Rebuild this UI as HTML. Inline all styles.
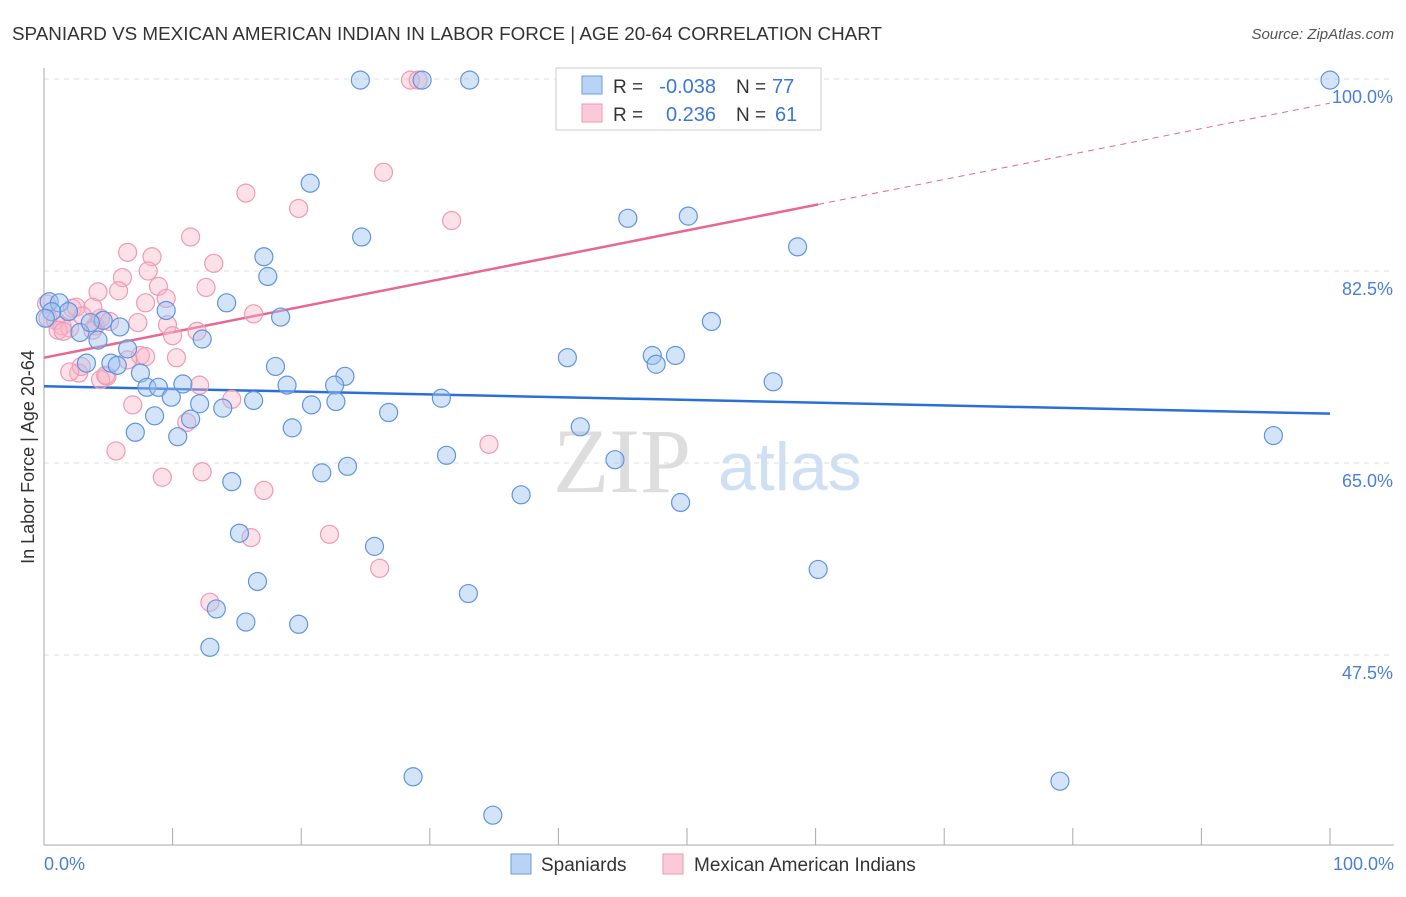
<!DOCTYPE html>
<html><head><meta charset="utf-8"><style>
body{margin:0;background:#fff;font-family:"Liberation Sans",sans-serif;}
</style></head><body>
<svg id="chart" width="1406" height="892" xmlns="http://www.w3.org/2000/svg">
<text x="12" y="40" font-size="18" fill="#333" textLength="870" lengthAdjust="spacingAndGlyphs">SPANIARD VS MEXICAN AMERICAN INDIAN IN LABOR FORCE | AGE 20-64 CORRELATION CHART</text>
<text x="1394" y="39" font-size="15" fill="#555" font-style="italic" text-anchor="end">Source: ZipAtlas.com</text>
<g><text x="553" y="492" font-size="92" fill="#ddd" font-family="Liberation Serif,serif">ZIP</text><text x="718" y="490" font-size="68" fill="#cfe0f5">atlas</text></g>
<g id="grid"></g><g id="axes"></g><g id="lines"></g><g id="pts"></g>
<text transform="translate(34,457) rotate(-90)" font-size="18" fill="#333" text-anchor="middle">In Labor Force | Age 20-64</text>
<text x="44" y="870" font-size="18" fill="#4a7fd6">0.0%</text>
<text x="1394" y="870" font-size="18" fill="#4a7fd6" text-anchor="end">100.0%</text>
<g>
<rect x="556" y="68" width="265" height="62" fill="#fff" stroke="#ccc"/>
<rect x="582" y="76" width="20" height="18" fill="#b9d3f5" stroke="#6a9ee0"/>
<rect x="582" y="104" width="20" height="18" fill="#fbc9d7" stroke="#ef9ab5"/>
<text x="613" y="93" font-size="19" fill="#333">R =</text>
<text x="716" y="93" font-size="20" fill="#3a78d8" text-anchor="end">-0.038</text>
<text x="736" y="93" font-size="19" fill="#333">N =</text>
<text x="772" y="93" font-size="20" fill="#3a78d8">77</text>
<text x="613" y="121" font-size="19" fill="#333">R =</text>
<text x="716" y="121" font-size="20" fill="#3a78d8" text-anchor="end">0.236</text>
<text x="736" y="121" font-size="19" fill="#333">N =</text>
<text x="775" y="121" font-size="20" fill="#3a78d8">61</text>
</g>
<g>
<rect x="511" y="854" width="20" height="20" fill="#b9d3f5" stroke="#6a9ee0"/>
<text x="541" y="871" font-size="19" fill="#333">Spaniards</text>
<rect x="663" y="854" width="20" height="20" fill="#fbc9d7" stroke="#ef9ab5"/>
<text x="694" y="871" font-size="19" fill="#333">Mexican American Indians</text>
</g>
</svg>
<script>
const yTicks=[100,82.5,65,47.5];
const yTickLabels=["100.0%","82.5%","65.0%","47.5%"];
const xTicks=[0,10,20,30,40,50,60,70,80,90,100];
const blueX=[24.6,29.4,33.1,100,20.7,24.7,45.4,50.1,58.6,17.1,17.4,0.4,1.2,1.9,0.6,14.2,9.5,18.4,51.9,4.6,5.9,12.3,2.8,4.2,6.5,40.7,47.3,49.1,47.6,5.2,5.7,3.3,18.0,7.5,23.4,56.7,8.0,8.9,10.8,18.9,22.6,9.9,12.1,13.9,16.3,20.8,22.7,30.9,8.6,11.4,26.8,7.1,10.4,19.3,41.7,95.6,31.3,44.4,23.6,21.6,14.6,37.1,49.5,15.2,25.7,60.2,16.6,33.0,13.4,15.7,19.8,12.9,28.7,79.0,34.9,0.1,3.6];
const blueY=[99.9,99.9,99.9,99.9,90.5,85.6,87.3,87.5,84.7,83.8,82.0,79.7,79.6,78.8,78.8,79.6,78.9,78.3,77.9,78.0,77.4,76.3,76.9,76.2,75.4,74.6,74.8,74.8,74.0,74.1,73.9,74.1,73.8,73.2,72.9,72.4,71.9,71.9,72.2,72.1,72.1,71.0,70.4,70.0,70.7,70.3,70.6,70.9,69.3,69.0,69.6,67.8,67.4,68.2,68.3,67.5,65.7,65.3,64.7,64.1,63.3,62.1,61.4,58.6,57.4,55.3,54.2,53.1,51.7,50.5,50.3,48.2,36.4,36.0,32.9,78.2,77.8];
const pinkX=[0.2,0.3,0.9,1.4,2.2,2.0,1.1,4.0,4.4,3.8,4.2,6.1,6.5,8.4,8.1,5.8,7.9,8.9,9.5,7.3,9.6,10.0,10.3,11.4,13.2,12.6,15.7,19.8,26.4,31.7,28.5,29.1,16.3,11.9,7.5,6.5,4.9,2.7,2.9,4.4,6.9,12.1,14.6,11.1,5.6,9.2,12.3,17.1,34.6,22.2,16.1,26.1,12.9,5.1,1.5,2.5,3.0,3.8,4.8,7.9,2.0];
const pinkY=[79.5,78.2,78.0,77.5,79.1,77.3,77.1,77.5,78.2,79.2,80.6,81.9,84.2,83.8,82.5,80.7,79.6,81.1,80.0,77.8,77.6,76.6,74.6,85.6,83.2,81.0,89.6,88.2,91.5,87.1,99.9,99.9,78.6,77.0,74.8,74.4,72.9,73.2,73.8,72.6,70.3,72.1,70.8,68.7,66.1,63.7,64.2,62.5,66.7,58.5,58.2,55.4,52.3,77.9,77.0,79.2,78.4,77.1,73.0,74.7,73.3];
const blueTrend=[72.0,69.5];
const pinkTrend=[74.6,97.8];
const pinkSolidEnd=60.2;
const NS="http://www.w3.org/2000/svg";
const X=v=>44+v*12.86, Y=v=>79+(100-v)/17.5*192;
function mk(tag,attrs,parent){const e=document.createElementNS(NS,tag);for(const k in attrs)e.setAttribute(k,attrs[k]);parent.appendChild(e);return e;}
const grid=document.getElementById('grid'),axes=document.getElementById('axes'),lines=document.getElementById('lines'),pts=document.getElementById('pts');
yTicks.forEach((t,i)=>{
 const l=mk('line',{x1:44,x2:1394,y1:Y(t),y2:Y(t),stroke:'#ddd','stroke-dasharray':'5,5'},grid);
 
 
 const tx=mk('text',{x:1393,y:Y(t)+24,'font-size':18,fill:'#4a7fd6','text-anchor':'end'},grid);
 tx.textContent=yTickLabels[i];
 
 
});
let a=mk('line',{x1:44,x2:44,y1:68,y2:845,stroke:'#aaa'},axes);


a=mk('line',{x1:44,x2:1394,y1:845,y2:845,stroke:'#aaa'},axes);


xTicks.forEach(t=>{
 const l=mk('line',{x1:X(t),x2:X(t),y1:828,y2:845,stroke:'#aaa'},axes);
 
 
});
function trendY(tr,x){return tr[0]+(tr[1]-tr[0])*x/100;}
let t=mk('line',{x1:X(0),y1:Y(trendY(blueTrend,0)),x2:X(100),y2:Y(trendY(blueTrend,100)),stroke:'#2a6fd6','stroke-width':2.5},lines);


t=mk('line',{x1:X(0),y1:Y(trendY(pinkTrend,0)),x2:X(pinkSolidEnd),y2:Y(trendY(pinkTrend,pinkSolidEnd)),stroke:'#e8668f','stroke-width':2.5},lines);


t=mk('line',{x1:X(pinkSolidEnd),y1:Y(trendY(pinkTrend,pinkSolidEnd)),x2:X(100),y2:Y(trendY(pinkTrend,100)),stroke:'#e8668f','stroke-width':1,'stroke-dasharray':'6,5'},lines);


pinkX.forEach((x,i)=>{
 const c=mk('circle',{cx:X(x),cy:Y(pinkY[i]),r:9,fill:'rgba(248,180,200,0.4)',stroke:'#ef9ab5','stroke-width':1.2},pts);
 
 
});
blueX.forEach((x,i)=>{
 const c=mk('circle',{cx:X(x),cy:Y(blueY[i]),r:9,fill:'rgba(160,196,240,0.45)',stroke:'#5f95e0','stroke-width':1.2},pts);
 
 
});
</script>
</body></html>
